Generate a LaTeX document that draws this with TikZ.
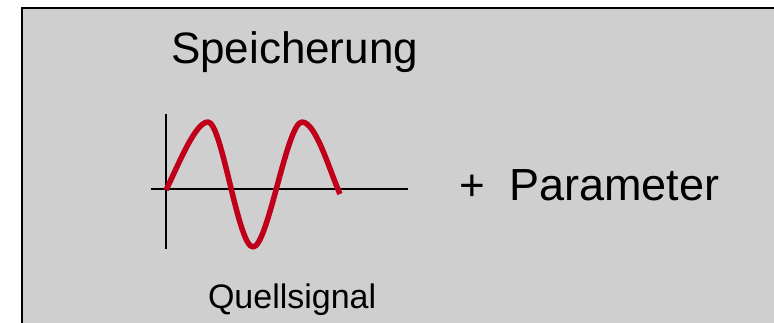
\documentclass[tikz,border=0pt]{standalone}
\usepackage{fontspec}
\setmainfont{Liberation Sans}
\definecolor{boxgray}{RGB}{207,207,207}
\definecolor{sigred}{RGB}{192,0,26}
\begin{document}
\begin{tikzpicture}[x=1pt,y=-1pt,
  lbl/.style={anchor=base west, inner sep=0pt, outer sep=0pt, text=black},
  axis/.style={draw=black, line width=2pt},
  signal/.style={draw=sigred, line width=5.5pt, line cap=butt, line join=round}]
\useasboundingbox (0,0) rectangle (774,322);
\clip (0,0) rectangle (774,322);
\draw[fill=boxgray, draw=black, line width=2.6pt] (22,8) rectangle (800,340);
% texts
\node[lbl, font=\fontsize{44}{50}\selectfont] (title) at (171,63) {Speicherung};
\node[lbl, font=\fontsize{44}{50}\selectfont] (plus) at (459,200) {+};
\node[lbl, font=\fontsize{45}{50}\selectfont] (param) at (509,200) {Parameter};
\node[lbl, font=\fontsize{34}{40}\selectfont] (src) at (208,308) {Quellsignal};
% axes
\coordinate (yt) at (166,114);
\coordinate (yb) at (166,249);
\coordinate (xl) at (151,189);
\coordinate (xr) at (408,189);
\draw[axis] (yt) -- (yb);
\draw[axis] (xl) -- (xr);
% signal
\coordinate (s0) at (166,190);
\coordinate (p1) at (208,122);
\coordinate (t1) at (253,247);
\coordinate (p2) at (302,122);
\coordinate (s1) at (340,194);
\draw[signal] (s0) .. controls (178,166) and (195,122) .. (p1)
  .. controls (222,122) and (238,247) .. (t1)
  .. controls (268,247) and (287,122) .. (p2)
  .. controls (316,122) and (330,172) .. (s1);
\end{tikzpicture}
\end{document}
